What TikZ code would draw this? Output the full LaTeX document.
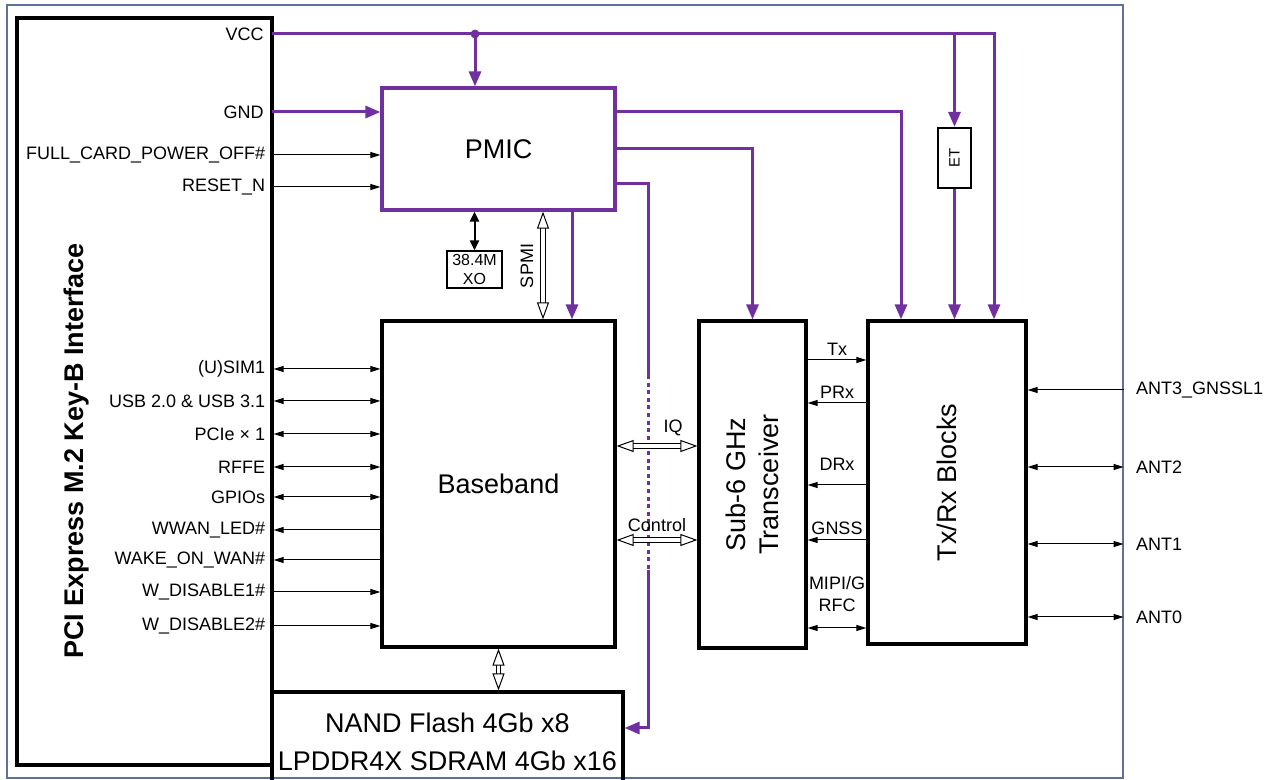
\documentclass[tikz,border=0pt]{standalone}
\usepackage{fontspec}
\setmainfont{Liberation Sans}
\usetikzlibrary{arrows.meta,positioning}
\definecolor{pwrPurple}{HTML}{7030A0}
\definecolor{frameBlue}{HTML}{5E7299}
\tikzset{
  blk/.style={draw=black, line width=1.6pt, align=center, inner sep=0pt, font=\fontsize{13.5}{19}\selectfont},
  pmicbox/.style={blk, draw=pwrPurple},
  smallbox/.style={draw=black, line width=0.6pt, align=center, inner sep=0pt, font=\fontsize{8}{9.5}\selectfont},
  bigtext/.style={inner sep=0pt, align=center, font=\fontsize{13.5}{16.5}\selectfont},
  lbl/.style={inner sep=0pt, align=center, font=\fontsize{9}{11}\selectfont},
  pwr/.style={draw=pwrPurple, line width=1.5pt},
  pwrarr/.style={pwr, -{Triangle[length=7.5pt,width=6pt]}},
  sig/.style={draw=black, line width=0.5pt},
  sigright/.style={sig, -{Triangle[length=5pt,width=3pt]}},
  sigleft/.style={sig, {Triangle[length=5pt,width=3pt]}-},
  sigboth/.style={sig, {Triangle[length=5pt,width=3pt]}-{Triangle[length=5pt,width=3pt]}},
  hollow/.style={draw=black, line width=0.5pt, double=white, double distance=1.8pt,
    {Triangle[open,length=8.5pt,width=6pt,line width=0.5pt]}-{Triangle[open,length=8.5pt,width=6pt,line width=0.5pt]}},
  frame/.style={draw=frameBlue, line width=0.6pt}
}

\begin{document}
\begin{tikzpicture}[x=0.5pt,y=-0.5pt]
  \useasboundingbox (0,0) rectangle (1271,780);
  \node[frame, minimum width=558pt, minimum height=386.5pt] (frame) at (565,391.5) {};

  % blocks
  \node[blk, minimum width=127.5pt, minimum height=373.5pt] (pci) at (144.5,391.5) {};
  \node[bigtext, rotate=90, font=\fontsize{13.5}{16.5}\selectfont\bfseries] (pcitext) at (77,451) {PCI Express M.2 Key-B Interface};
  \node[pmicbox, minimum width=116.5pt, minimum height=61pt] (pmic) at (498.5,149) {PMIC};
  \node[smallbox, minimum width=27.5pt, minimum height=18.5pt] (xo) at (474.5,269.5) {38.4M\\XO};
  \node[smallbox, line width=1.1pt, minimum width=16.5pt, minimum height=30pt] (et) at (954.5,158) {};
  \node[inner sep=0pt, rotate=90, font=\fontsize{7.5}{8}\selectfont] (ettext) at (et) {ET};
  \node[blk, minimum width=116.5pt, minimum height=163pt] (bb) at (498.5,484) {Baseband};
  \node[blk, minimum width=175.5pt, minimum height=50pt] (nand) at (447.5,742) {NAND Flash 4Gb x8\\LPDDR4X SDRAM 4Gb x16};
  \node[blk, minimum width=53.5pt, minimum height=163.5pt] (trx) at (752.5,484.5) {};
  \node[bigtext, rotate=90] (trxtext) at (trx) {Sub-6 GHz\\Transceiver};
  \node[blk, minimum width=79pt, minimum height=161.5pt] (rfb) at (947,482.5) {};
  \node[bigtext, rotate=90] (rfbtext) at (rfb) {Tx/Rx Blocks};

  % power rails
  \coordinate (vcc) at (272,34);
  \coordinate (vccdot) at (475,34);
  \coordinate (vccet) at (954.5,34);
  \coordinate (vccend) at (994,34);
  \draw[pwrarr] (vcc) -- (vccend) -- (vccend |- rfb.north);
  \fill[pwrPurple] (vccdot) circle (2.2pt);
  \draw[pwrarr] (vccdot) -- (vccdot |- pmic.north);
  \draw[pwrarr] (vccet) -- (et.north);
  \draw[pwrarr] (et.south) -- (et.south |- rfb.north);
  \node[lbl, left=4pt] at (vcc) {VCC};

  \coordinate (gnd) at (272,112);
  \draw[pwrarr] (gnd) -- (gnd -| pmic.west);
  \node[lbl, left=4pt] at (gnd) {GND};

  \coordinate (p1) at (901,112);
  \coordinate (p2) at (752.5,149);
  \coordinate (p3) at (572,0);
  \draw[pwrarr] (pmic.east |- p1) -- (p1) -- (p1 |- rfb.north);
  \draw[pwrarr] (pmic.east |- p2) -- (p2) -- (trx.north);
  \draw[pwrarr] (p3 |- pmic.south) -- (p3 |- bb.north);

  \coordinate (m1) at (648,184);
  \coordinate (m2) at (648,375);
  \coordinate (m3) at (648,570);
  \coordinate (m4) at (648,728);
  \draw[pwr] (pmic.east |- m1) -- (m1) -- (m2);
  \draw[pwr, dash pattern=on 2pt off 1.8pt] (m2) -- (m3);
  \draw[pwrarr] (m3) -- (m4) -- (m4 -| nand.east);

  % PMIC control inputs
  \foreach \y/\name in {155/FULL\_CARD\_POWER\_OFF\#, 187/RESET\_N}{
    \coordinate (s) at (0,\y);
    \draw[sigright] (s -| pci.east) -- (s -| pmic.west);
    \node[lbl, left=4pt] at (s -| pci.east) {\name};
  }

  \draw[sig, line width=1pt, {Triangle[length=5pt,width=4.5pt]}-{Triangle[length=5pt,width=4.5pt]}] (xo.north |- pmic.south) -- (xo.north);
  \coordinate (spmi) at (543,0);
  \draw[hollow] (spmi |- pmic.south) -- (spmi |- bb.north);
  \node[lbl, rotate=90] (spmilbl) at (527,266) {SPMI};

  % baseband host interface
  \foreach \y/\name/\dir in {369/(U)SIM1/sigboth, 401/USB 2.0 \& USB 3.1/sigboth, 434/PCIe × 1/sigboth,
      467/RFFE/sigboth, 497/GPIOs/sigboth, 530/WWAN\_LED\#/sigleft, 560/WAKE\_ON\_WAN\#/sigleft,
      592/W\_DISABLE1\#/sigright, 626/W\_DISABLE2\#/sigright}{
    \coordinate (s) at (0,\y);
    \draw[\dir] (s -| pci.east) -- (s -| bb.west);
    \node[lbl, left=4pt] at (s -| pci.east) {\name};
  }

  \draw[hollow] (bb.south) -- (bb.south |- nand.north);
  \coordinate (iq) at (0,446);
  \coordinate (ctl) at (0,540);
  \draw[hollow] (iq -| bb.east) -- node[lbl, above=5pt, xshift=8pt] {IQ} (iq -| trx.west);
  \draw[hollow] (ctl -| bb.east) -- node[lbl, above=4pt] {Control} (ctl -| trx.west);

  % transceiver to RF front end
  \foreach \y/\name/\dir/\off in {360/Tx/sigright/2.2pt, 403/PRx/sigleft/2.2pt, 485/DRx/sigleft/6.8pt, 540/GNSS/sigleft/2.5pt}{
    \coordinate (t) at (0,\y);
    \draw[\dir] (t -| trx.east) -- node[lbl, above=\off] {\name} (t -| rfb.west);
  }
  \coordinate (mipi) at (0,628);
  \draw[sigboth] (mipi -| trx.east) -- node[lbl, above=8pt] {MIPI/G\\RFC} (mipi -| rfb.west);

  % antennas
  \foreach \y/\name/\dir in {390/ANT3\_GNSSL1/sigleft, 467/ANT2/sigboth, 544/ANT1/sigboth, 617/ANT0/sigboth}{
    \coordinate (a) at (0,\y);
    \draw[\dir] (a -| rfb.east) -- (a -| frame.east);
    \node[lbl, right=6pt] at (a -| frame.east) {\name};
  }
\end{tikzpicture}
\end{document}
